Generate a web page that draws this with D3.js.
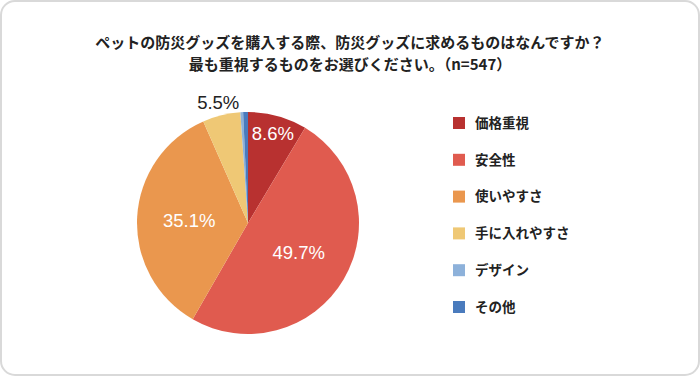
<!DOCTYPE html>
<html><head><meta charset="utf-8">
<script src="https://cdn.jsdelivr.net/npm/d3@7"></script>
<style>body{margin:0;background:#fff;}svg{display:block;font-family:"Noto Sans CJK JP","Noto Sans",sans-serif;}</style>
</head><body>
<script>
const categories = ["価格重視","安全性","使いやすさ","手に入れやすさ","デザイン","その他"];
const values = [8.6,49.7,35.1,5.5,0.4,0.7];
const colors = ["#b83130","#e05b4f","#ea974e","#efc875","#8db1da","#4a7bbd"];
const titleLines = ["ペットの防災グッズを購入する際、防災グッズに求めるものはなんですか？","最も重視するものをお選びください。（n=547）"];

const W=700,H=376;
const svg=d3.select("body").append("svg").attr("width",W).attr("height",H);
svg.append("rect").attr("x",1).attr("y",1).attr("width",W-2).attr("height",H-2).attr("rx",14)
  .attr("fill","#fff").attr("stroke","#d9d9d9").attr("stroke-width",2);

const title=svg.append("text").attr("text-anchor","middle")
  .attr("font-size",15).attr("font-weight","bold").attr("fill","#222");
title.selectAll("tspan").data(titleLines).join("tspan")
  .attr("x",350).attr("y",(d,i)=>48+i*21.5).text(d=>d);

const cx=248,cy=223,r=111;
const data=categories.map((c,i)=>({c,v:values[i],col:colors[i]}));
const pie=d3.pie().value(d=>d.v).sort(null);
const arc=d3.arc().innerRadius(0).outerRadius(r);
const arcs=pie(data);
const g=svg.append("g").attr("transform",`translate(${cx},${cy})`);
g.selectAll("path").data(arcs).join("path").attr("d",arc).attr("fill",d=>d.data.col);

arcs.forEach((a,i)=>{
  if(a.data.v<1) return;
  const inside=a.data.v>7;
  const f=inside?(a.data.v>20?0.53:0.84):1.12;
  const la=d3.arc().innerRadius(r*f).outerRadius(r*f);
  const p=la.centroid(a);
  g.append("text").attr("x",p[0]).attr("y",p[1]).attr("dy","0.36em")
   .attr("text-anchor","middle").attr("font-size",18.5).attr("font-family","'Liberation Sans',Arial,sans-serif")
   .attr("fill",inside?"#fff":"#222").text(a.data.v.toFixed(1)+"%");
});

const leg=svg.append("g").attr("transform","translate(453,117)");
const row=leg.selectAll("g").data(data).join("g").attr("transform",(d,i)=>`translate(0,${i*36.8})`);
row.append("rect").attr("width",12).attr("height",12).attr("fill",d=>d.col);
row.append("text").attr("x",22).attr("y",6).attr("dy","0.36em").attr("font-size",13.5)
  .attr("font-weight","bold").attr("fill","#222").text(d=>d.c);
</script>
</body></html>
